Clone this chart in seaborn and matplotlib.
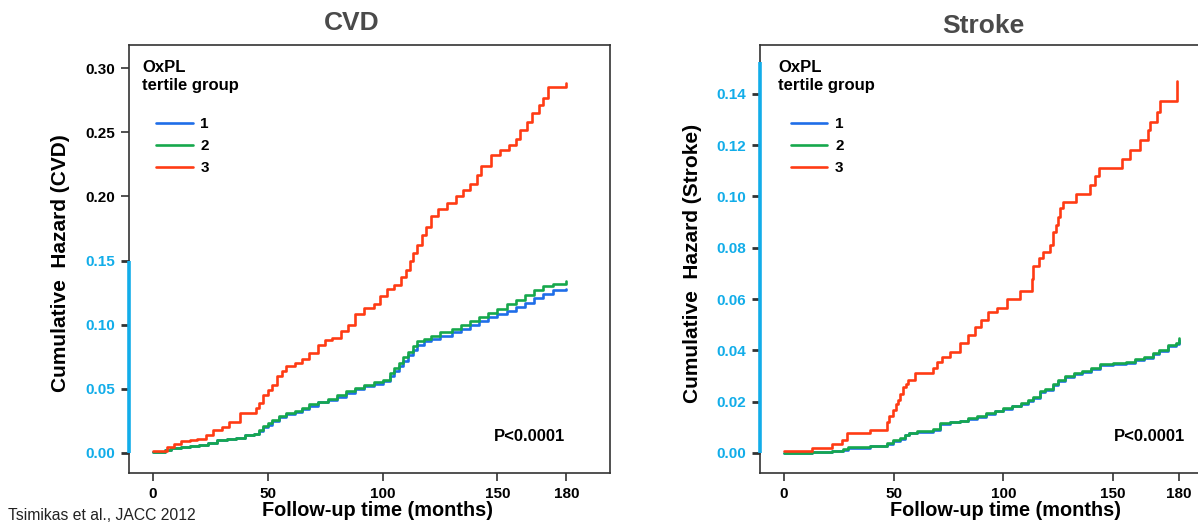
import matplotlib
matplotlib.use("Agg")
import matplotlib.pyplot as plt
import matplotlib.font_manager as fm
import seaborn as sns
import pandas as pd
import numpy as np

# ---------------- data ----------------
groups = ["1", "2", "3"]
x_ticks = [0, 50, 100, 150, 180]
cvd_y_ticks = [0.00, 0.05, 0.10, 0.15, 0.20, 0.25, 0.30]
stroke_y_ticks = [0.00, 0.02, 0.04, 0.06, 0.08, 0.10, 0.12, 0.14]

# CVD panel
cvd_t3 = [0, 6, 9, 12, 16, 19, 23, 26, 30, 33, 38, 45, 46, 48, 50, 52, 54, 56, 58, 62,
          65, 68, 72, 75, 78, 82, 85, 88, 92, 96, 99, 102, 105, 108, 110, 112, 113, 115,
          117, 119, 121, 124, 128, 132, 135, 138, 141, 143, 147, 151, 155, 158, 160, 163,
          165, 168, 170, 172, 180]
cvd_v3 = [0.0015, 0.005, 0.007, 0.009, 0.010, 0.011, 0.014, 0.018, 0.020, 0.024, 0.031,
          0.035, 0.039, 0.045, 0.049, 0.053, 0.060, 0.064, 0.068, 0.070, 0.073, 0.078,
          0.084, 0.088, 0.090, 0.095, 0.100, 0.108, 0.113, 0.116, 0.122, 0.128, 0.131,
          0.137, 0.143, 0.150, 0.156, 0.162, 0.170, 0.176, 0.185, 0.190, 0.195, 0.200,
          0.205, 0.210, 0.217, 0.224, 0.232, 0.236, 0.240, 0.245, 0.252, 0.258, 0.265,
          0.271, 0.277, 0.285, 0.288]
cvd_t12 = [0, 5, 8, 12, 16, 20, 24, 28, 32, 36, 40, 44, 46, 48, 50, 52, 55, 58, 62, 65,
           68, 72, 76, 80, 84, 88, 92, 96, 100, 103, 105, 107, 109, 111, 113, 115, 118,
           121, 125, 130, 134, 138, 142, 146, 150, 154, 158, 162, 166, 170, 174, 180]
cvd_v1 = [0.001, 0.002, 0.004, 0.005, 0.0055, 0.006, 0.008, 0.010, 0.011, 0.012, 0.014,
          0.015, 0.017, 0.020, 0.022, 0.025, 0.028, 0.030, 0.032, 0.034, 0.037, 0.040,
          0.041, 0.044, 0.047, 0.050, 0.052, 0.054, 0.056, 0.060, 0.064, 0.068, 0.072,
          0.076, 0.080, 0.084, 0.087, 0.089, 0.091, 0.094, 0.097, 0.100, 0.103, 0.106,
          0.108, 0.111, 0.114, 0.117, 0.121, 0.124, 0.127, 0.128]
cvd_v2 = [0.001, 0.002, 0.004, 0.005, 0.0055, 0.006, 0.008, 0.010, 0.011, 0.012, 0.014,
          0.015, 0.018, 0.021, 0.023, 0.026, 0.029, 0.031, 0.033, 0.035, 0.038, 0.040,
          0.042, 0.045, 0.048, 0.051, 0.053, 0.055, 0.057, 0.062, 0.066, 0.070, 0.075,
          0.079, 0.083, 0.087, 0.089, 0.091, 0.094, 0.097, 0.100, 0.103, 0.106, 0.109,
          0.112, 0.116, 0.119, 0.123, 0.127, 0.130, 0.132, 0.134]

# Stroke panel
stroke_t3 = [0, 12.6, 21.7, 26.4, 28.6, 39.2, 46.8, 48, 49.8, 51, 52, 53, 54.3, 55.5,
             56.5, 59.7, 68, 69.6, 71.9, 75.7, 80, 84, 87, 90, 93, 97, 101.5, 107.6, 113,
             113.6, 116, 118, 121, 122.7, 124, 125, 125.8, 127, 133, 139.5, 141.7, 143.3,
             154, 157.7, 162.3, 166, 166.8, 170, 171.4, 179]
stroke_v3 = [0.0008, 0.002, 0.0034, 0.005, 0.0077, 0.009, 0.0122, 0.0145, 0.0168, 0.019,
             0.0207, 0.023, 0.0259, 0.027, 0.0285, 0.031, 0.033, 0.0356, 0.0376, 0.0395,
             0.043, 0.046, 0.049, 0.052, 0.055, 0.0565, 0.060, 0.063, 0.068, 0.073, 0.076,
             0.0785, 0.081, 0.0863, 0.089, 0.092, 0.0955, 0.098, 0.101, 0.1045, 0.108,
             0.111, 0.1145, 0.118, 0.122, 0.126, 0.129, 0.133, 0.137, 0.145]
stroke_t12 = [0, 12.6, 22, 27, 29.2, 39, 46.8, 49.7, 52.8, 55, 57, 60.5, 68, 71, 75.7, 80,
              84, 88, 92, 96, 100, 104, 108, 111, 113.6, 116.7, 119, 122.7, 125, 128, 132,
              136, 140, 144, 150, 156, 160, 164, 168, 171, 175, 178.7, 180]
stroke_v2 = [0.0001, 0.0005, 0.0008, 0.0014, 0.0022, 0.0027, 0.0037, 0.005, 0.0058,
             0.0072, 0.0078, 0.0085, 0.0092, 0.0116, 0.0122, 0.0125, 0.0135, 0.0145,
             0.0155, 0.0165, 0.0175, 0.0185, 0.0194, 0.0205, 0.022, 0.024, 0.025, 0.027,
             0.0285, 0.030, 0.031, 0.032, 0.033, 0.0345, 0.035, 0.0355, 0.0365, 0.0375,
             0.039, 0.040, 0.042, 0.043, 0.045]
stroke_v1 = [0.0001, 0.0005, 0.0008, 0.0013, 0.0021, 0.0026, 0.0035, 0.0048, 0.0056,
             0.0070, 0.0076, 0.0083, 0.0090, 0.0113, 0.0119, 0.0123, 0.0132, 0.0142,
             0.0152, 0.0162, 0.0172, 0.0182, 0.0191, 0.0202, 0.0216, 0.0236, 0.0246,
             0.0266, 0.0281, 0.0296, 0.0306, 0.0316, 0.0326, 0.0341, 0.0346, 0.0351,
             0.0361, 0.0371, 0.0386, 0.0396, 0.0415, 0.0425, 0.0440]

# ---------------- style ----------------
sns.set_theme(style="white")
avail = {f.name for f in fm.fontManager.ttflist}
main_font = "Liberation Sans" if "Liberation Sans" in avail else "DejaVu Sans"
narrow_font = "Liberation Sans Narrow" if "Liberation Sans Narrow" in avail else main_font
plt.rcParams["font.family"] = [main_font, "DejaVu Sans"]
plt.rcParams["text.color"] = "black"
plt.rcParams["axes.labelcolor"] = "black"
plt.rcParams["xtick.color"] = "black"
plt.rcParams["ytick.color"] = "black"

palette = {"1": "#1f6ee8", "2": "#16a84c", "3": "#ff3b14"}
CYAN = "#12ade9"
DARK = "#333333"

W, H = 1198, 529
fig = plt.figure(figsize=(W / 100, H / 100), dpi=100)


def px_axes(l, t, r, b):
    return fig.add_axes([l / W, 1 - b / H, (r - l) / W, (b - t) / H])


def make_df(t1, v1, t2, v2, t3, v3):
    rows = []
    for g, ts, vs in (("1", t1, v1), ("2", t2, v2), ("3", t3, v3)):
        for a, b in zip(ts, vs):
            rows.append((g, a, b))
    return pd.DataFrame(rows, columns=["group", "time", "hazard"])


def style_axes(ax, xlim, ylim, yticks, cyan_max, cyan_top, fmt):
    ax.set_xlim(*xlim)
    ax.set_ylim(*ylim)
    ax.set_xticks(x_ticks)
    ax.set_yticks(yticks)
    ax.set_yticklabels([fmt.format(v) for v in yticks])
    ax.set_xlabel("")
    ax.set_ylabel("")
    for s in ax.spines.values():
        s.set_color(DARK)
        s.set_linewidth(1.2)
        s.set_visible(True)
    ax.tick_params(axis="both", which="major", direction="out", length=6, width=1.2,
                   color=DARK, labelsize=11, pad=4, left=True, bottom=True,
                   labelcolor="black")
    for lab in ax.get_xticklabels() + ax.get_yticklabels():
        lab.set_fontweight("bold")
        lab.set_color("black")
    ticks = ax.yaxis.get_major_ticks()
    for tk, v in zip(ticks, yticks):
        if v <= cyan_max + 1e-9:
            tk.label1.set_color(CYAN)
            tk.tick1line.set_color(CYAN)
            tk.tick1line.set_markeredgewidth(2.0)
    ax.plot([xlim[0], xlim[0]], [0, cyan_top], color=CYAN, lw=2.6,
            solid_capstyle="butt", clip_on=False, zorder=5)


def draw_panel(ax, df, title_xy, legend_anchor):
    sns.lineplot(data=df, x="time", y="hazard", hue="group", hue_order=groups,
                 palette=palette, estimator=None, drawstyle="steps-post",
                 linewidth=1.9, ax=ax, legend=True)
    handles, labels = ax.get_legend_handles_labels()
    leg = ax.legend(handles, labels, loc="upper left", bbox_to_anchor=legend_anchor,
                    frameon=False, handlelength=2.4, handletextpad=0.5,
                    labelspacing=0.52, borderpad=0, borderaxespad=0,
                    prop={"weight": "bold", "size": 11})
    for t in leg.get_texts():
        t.set_color("black")
    ax.text(title_xy[0], title_xy[1], "OxPL\ntertile group", transform=ax.transAxes,
            ha="left", va="top", fontsize=12, fontweight="bold", linespacing=1.25,
            color="black")


# ---- left panel: CVD ----
ax1 = px_axes(129, 45, 610, 473)
df1 = make_df(cvd_t12, cvd_v1, cvd_t12, cvd_v2, cvd_t3, cvd_v3)
draw_panel(ax1, df1, (0.028, 0.966), (0.056, 0.831))
style_axes(ax1, (-10.5, 199), (-0.0156, 0.318), cvd_y_ticks, 0.15, 0.15, "{:.2f}")
ax1.text(0.906, 0.086, "P<0.0001", transform=ax1.transAxes, ha="right", va="center",
         fontsize=12, fontweight="bold", color="black")

# ---- right panel: Stroke ----
ax2 = px_axes(760, 45, 1212, 473)
df2 = make_df(stroke_t12, stroke_v1, stroke_t12, stroke_v2, stroke_t3, stroke_v3)
draw_panel(ax2, df2, (0.04, 0.966), (0.068, 0.831))
style_axes(ax2, (-10.9, 195), (-0.0078, 0.159), stroke_y_ticks, 0.14, 0.1525, "{:.2f}")
ax2.text(0.94, 0.086, "P<0.0001", transform=ax2.transAxes, ha="right", va="center",
         fontsize=12, fontweight="bold", color="black")

# ---- titles and labels ----
fig.text(352 / W, 1 - 22.5 / H, "CVD", ha="center", va="center", fontsize=19,
         fontweight="bold", color="#4a4a4a")
fig.text(983 / W, 1 - 26 / H, "Stroke", ha="center", va="center", fontsize=19,
         fontweight="bold", color="#4a4a4a")
fig.text(61 / W, 1 - 263 / H, "Cumulative  Hazard (CVD)", rotation=90, ha="center",
         va="center", fontsize=15, fontweight="bold", color="black")
fig.text(692 / W, 1 - 263 / H, "Cumulative  Hazard (Stroke)", rotation=90, ha="center",
         va="center", fontsize=15, fontweight="bold", color="black")
fig.text(377 / W, 1 - 511 / H, "Follow-up time (months)", ha="center", va="center",
         fontsize=14.3, fontweight="bold", color="black")
fig.text(1005 / W, 1 - 511 / H, "Follow-up time (months)", ha="center", va="center",
         fontsize=14.3, fontweight="bold", color="black")
fig.text(8 / W, 1 - 515 / H, "Tsimikas et al., JACC 2012", ha="left", va="center",
         fontsize=11.3, family=[narrow_font, "DejaVu Sans"], color="#222222")

fig.savefig("out.png", dpi=100)
